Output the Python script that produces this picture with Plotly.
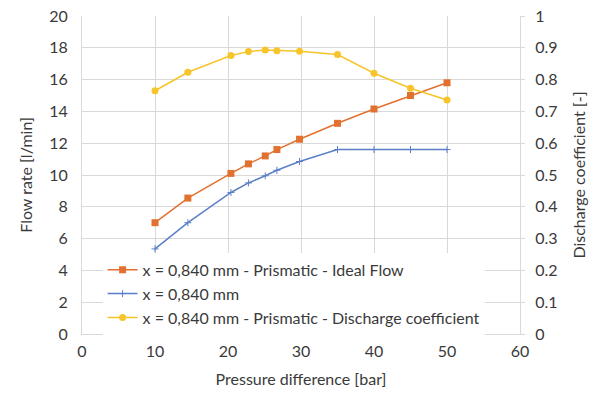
import plotly.graph_objects as go

x_vals = [10, 14.5, 20.4, 22.8, 25.1, 26.7, 29.8, 35, 40, 45, 50]
ideal_flow = [7.0, 8.55, 10.1, 10.7, 11.2, 11.6, 12.25, 13.25, 14.15, 15.0, 15.8]
measured_flow = [5.35, 7.0, 8.9, 9.5, 9.95, 10.3, 10.85, 11.6, 11.6, 11.6, 11.6]
discharge_coef = [0.765, 0.823, 0.876, 0.888, 0.893, 0.891, 0.889, 0.879, 0.82, 0.773, 0.736]

names = ["x = 0,840 mm - Prismatic - Ideal Flow", "x = 0,840 mm",
         "x = 0,840 mm - Prismatic - Discharge coefficient"]

FONT = "Lato, 'Open Sans', sans-serif"
GRID = "#d9d9d9"
TXT = "#3a3a3a"

fig = go.Figure()
fig.add_trace(go.Scatter(x=x_vals, y=ideal_flow, name=names[0], mode="lines+markers",
                         line=dict(color="#E2712F", width=1.5),
                         marker=dict(symbol="square", size=7, color="#E2712F")))
fig.add_trace(go.Scatter(x=x_vals, y=measured_flow, name=names[1], mode="lines+markers",
                         line=dict(color="#5B7FC7", width=1.5),
                         marker=dict(symbol="cross-thin", size=5, line=dict(color="#5B7FC7", width=1))))
fig.add_trace(go.Scatter(x=x_vals, y=discharge_coef, name=names[2], mode="lines+markers",
                         yaxis="y2",
                         line=dict(color="#F7C42A", width=1.5),
                         marker=dict(symbol="circle", size=7, color="#F7C42A")))

fig.update_layout(
    width=596, height=396,
    margin=dict(l=82, r=76, t=16, b=62),
    paper_bgcolor="white", plot_bgcolor="white",
    font=dict(family=FONT, size=16, color=TXT),
    xaxis=dict(range=[0, 60], dtick=10, showgrid=True, gridcolor=GRID, zeroline=False,
               showline=True, linecolor=GRID, ticks="", tickfont=dict(size=16),
               ticklabelstandoff=3, automargin=False,
               title=dict(text="Pressure difference [bar]", font=dict(size=16), standoff=14)),
    yaxis=dict(range=[0, 20], dtick=2, showgrid=True, gridcolor=GRID, zeroline=False,
               showline=True, linecolor=GRID, ticks="", tickfont=dict(size=16),
               ticklabelstandoff=10, automargin=False,
               title=dict(text="Flow rate [l/min]", font=dict(size=16), standoff=12)),
    yaxis2=dict(range=[0, 1], dtick=0.1, overlaying="y", side="right", showgrid=False,
                zeroline=False, showline=True, linecolor=GRID, ticks="outside", ticklen=4,
                tickcolor=GRID, tickfont=dict(size=16), ticklabelstandoff=7, automargin=False,
                title=dict(text="Discharge coefficient [-]", font=dict(size=16), standoff=17)),
    legend=dict(x=0.047, y=0.255, xanchor="left", yanchor="top", bgcolor="white",
                font=dict(size=16, color=TXT), tracegroupgap=0, itemwidth=30),
    showlegend=True,
)

fig.write_html("out.html")
